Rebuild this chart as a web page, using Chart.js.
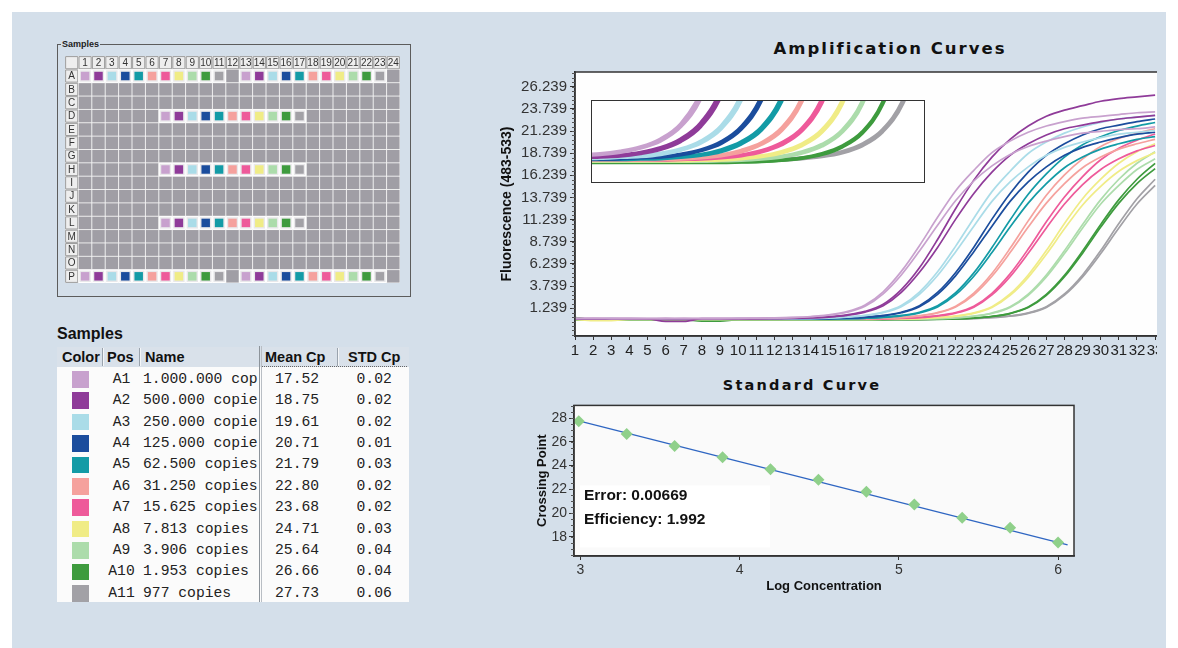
<!DOCTYPE html>
<html>
<head>
<meta charset="utf-8">
<script src="https://cdn.jsdelivr.net/npm/chart.js@4.4.1/dist/chart.umd.min.js"></script>
<style>
html, body { margin: 0; padding: 0; background: #fff; }
body { position: relative; width: 1178px; height: 648px; overflow: hidden; font-family: "Liberation Sans", Arial, sans-serif; color: #111; }
.abs { position: absolute; }
#panel { left: 12px; top: 12px; width: 1154px; height: 636px; background: #d4dfea; }
#plateBox { left: 57px; top: 44px; width: 352px; height: 251px; border: 1px solid #5c5c5c; }
#plateLegend { left: 61px; top: 38px; font-size: 9px; font-weight: bold; background: #d4dfea; padding: 0 1px; line-height: 12px; color: #222; }
#plateWrap { left: 65px; top: 56px; width: 335px; height: 227px; background: #f3f3f3; }
#tblTitle { left: 57px; top: 324px; font-size: 16px; font-weight: bold; line-height: 20px; }
#tblHead { left: 57px; top: 347px; width: 352px; height: 20px; background: #d9e1ea; }
#tblBody { left: 57px; top: 367px; width: 352px; height: 235px; background: #fbfbfb; }
.th { font-size: 14.5px; font-weight: bold; line-height: 20px; top: 347px; color: #111; }
.td { font-family: "Liberation Mono", "Courier New", monospace; font-size: 14.7px; line-height: 21px; color: #222; white-space: nowrap; overflow: hidden; }
.title { font-family: "DejaVu Sans", sans-serif; font-weight: bold; text-align: center; color: #111; }
#ampWrap { left: 495px; top: 60px; width: 662px; height: 300px; overflow: hidden; }
#insetWrap { left: 591px; top: 100px; width: 334px; height: 83px; border: 1.5px solid #333; box-sizing: border-box; background: #fff; }
#stdWrap { left: 520px; top: 395px; width: 570px; height: 200px; }
</style>
</head>
<body>
<div id="panel" class="abs"></div>

<div id="plateBox" class="abs"></div>
<div id="plateLegend" class="abs">Samples</div>
<div id="plateWrap" class="abs"><canvas id="plateChart" width="335" height="227"></canvas></div>

<div id="tblTitle" class="abs">Samples</div>
<div id="tblHead" class="abs"></div>
<div id="tblBody" class="abs"></div>

<div class="abs title" style="left:740px; top:38px; width:300px; font-size:16.5px; letter-spacing:2px; line-height:22px;">Amplification Curves</div>
<div id="ampWrap" class="abs"><canvas id="ampChart" width="720" height="300"></canvas></div>
<div id="insetWrap" class="abs"><canvas id="insetChart" width="331" height="80"></canvas></div>

<div class="abs title" style="left:652px; top:375px; width:300px; font-size:14.5px; letter-spacing:2.2px; line-height:20px;">Standard Curve</div>
<div id="stdWrap" class="abs"><canvas id="stdChart" width="570" height="200"></canvas></div>

<script>
// ---- samples (table / standard curve) ----
const samplePos = ['A1', 'A2', 'A3', 'A4', 'A5', 'A6', 'A7', 'A8', 'A9', 'A10', 'A11'];
const sampleNames = ['1.000.000 copies', '500.000 copies', '250.000 copies', '125.000 copies', '62.500 copies',
    '31.250 copies', '15.625 copies', '7.813 copies', '3.906 copies', '1.953 copies', '977 copies'];
const sampleColors = ['#c8a1ce', '#8f3b99', '#aadce8', '#1b4d9d', '#139ba6', '#f5a19d', '#ee5a9a', '#f0ec86', '#acdcab', '#3e9b3e', '#a2a1a6'];
const meanCp = [17.52, 18.75, 19.61, 20.71, 21.79, 22.80, 23.68, 24.71, 25.64, 26.66, 27.73];
const stdCp = [0.02, 0.02, 0.02, 0.01, 0.03, 0.02, 0.02, 0.03, 0.04, 0.04, 0.06];
const logConc = [6.000, 5.699, 5.398, 5.097, 4.796, 4.495, 4.194, 3.893, 3.592, 3.291, 2.990];
const fitLineX = [2.99, 6.06];
const fitLineY = [27.76, 17.32];
const fitError = '0.00669';
const fitEfficiency = '1.992';
const stdXTicks = [3, 4, 5, 6];
const stdYTicks = [18, 20, 22, 24, 26, 28];

// ---- plate layout (sample index per column, null = empty well) ----
const plateRows = ['A', 'B', 'C', 'D', 'E', 'F', 'G', 'H', 'I', 'J', 'K', 'L', 'M', 'N', 'O', 'P'];
const plateCols = [1, 2, 3, 4, 5, 6, 7, 8, 9, 10, 11, 12, 13, 14, 15, 16, 17, 18, 19, 20, 21, 22, 23, 24];
const plateRowA = [0, 1, 2, 3, 4, 5, 6, 7, 8, 9, 10, null, 0, 1, 2, 3, 4, 5, 6, 7, 8, 9, 10, null];
const plateRowD = [null, null, null, null, null, null, 0, 1, 2, 3, 4, 5, 6, 7, 8, 9, 10, null, null, null, null, null, null, null];
const plateRowH = [null, null, null, null, null, null, 0, 1, 2, 3, 4, 5, 6, 7, 8, 9, 10, null, null, null, null, null, null, null];
const plateRowL = [null, null, null, null, null, null, 0, 1, 2, 3, 4, 5, 6, 7, 8, 9, 10, null, null, null, null, null, null, null];
const plateRowP = [0, 1, 2, 3, 4, 5, 6, 7, 8, 9, 10, null, 0, 1, 2, 3, 4, 5, 6, 7, 8, 9, 10, null];

// ---- amplification curves (fluorescence per cycle) ----
const cycles = [1, 2, 3, 4, 5, 6, 7, 8, 9, 10, 11, 12, 13, 14, 15, 16, 17, 18, 19, 20, 21, 22, 23, 24, 25, 26, 27, 28, 29, 30, 31, 32, 33];
const ampXTicks = [1, 2, 3, 4, 5, 6, 7, 8, 9, 10, 11, 12, 13, 14, 15, 16, 17, 18, 19, 20, 21, 22, 23, 24, 25, 26, 27, 28, 29, 30, 31, 32, 33, 34, 35];
const ampYTicks = [1.239, 3.739, 6.239, 8.739, 11.239, 13.739, 16.239, 18.739, 21.239, 23.739, 26.239];

const lavenderA = [0.10, 0.10, 0.11, 0.10, 0.10, 0.12, 0.10, 0.10, 0.11, 0.11, 0.13, 0.15, 0.21, 0.31, 0.50, 0.86, 1.61, 3.10, 5.40, 8.30, 11.5, 14.5, 16.8, 18.8, 20.1, 21.1, 21.8, 22.3, 22.7, 22.9, 23.1, 23.3, 23.4];
const lavenderB = [0.08, 0.09, 0.08, 0.07, 0.08, 0.08, 0.09, 0.08, 0.08, 0.09, 0.10, 0.13, 0.18, 0.28, 0.45, 0.79, 1.47, 2.87, 5.00, 7.70, 10.6, 13.4, 15.6, 17.3, 18.6, 19.5, 20.1, 20.6, 21.0, 21.2, 21.4, 21.5, 21.7];
const purpleA = [0.06, 0.06, 0.07, 0.06, 0.05, -0.25, -0.25, 0.06, 0.07, 0.06, 0.07, 0.09, 0.12, 0.18, 0.29, 0.50, 0.89, 1.69, 3.34, 5.80, 9.00, 12.5, 15.7, 18.3, 20.3, 21.8, 22.9, 23.6, 24.1, 24.6, 24.9, 25.1, 25.3];
const purpleB = [0.04, 0.05, 0.04, 0.04, 0.04, 0.04, 0.05, 0.04, 0.04, 0.05, 0.05, 0.07, 0.09, 0.15, 0.25, 0.44, 0.80, 1.53, 3.03, 5.30, 8.10, 11.3, 14.2, 16.6, 18.5, 19.8, 20.8, 21.5, 21.9, 22.3, 22.6, 22.8, 23.0];
const lightBlueA = [0.05, 0.05, 0.06, 0.05, 0.05, 0.05, 0.04, 0.05, 0.05, 0.06, 0.05, 0.06, 0.08, 0.10, 0.16, 0.26, 0.45, 0.81, 1.56, 3.07, 5.35, 8.25, 11.4, 14.4, 16.7, 18.7, 20.0, 21.0, 21.7, 22.2, 22.6, 22.8, 23.0];
const lightBlueB = [0.03, 0.03, 0.03, 0.04, 0.03, 0.03, 0.03, 0.02, 0.03, 0.03, 0.03, 0.04, 0.06, 0.08, 0.13, 0.23, 0.40, 0.74, 1.42, 2.82, 4.93, 7.63, 10.5, 13.3, 15.5, 17.2, 18.5, 19.4, 20.0, 20.5, 20.9, 21.1, 21.3];
const darkBlueA = [0.03, 0.03, 0.03, 0.03, 0.04, 0.03, 0.03, 0.03, 0.03, 0.03, 0.03, 0.03, 0.04, 0.06, 0.08, 0.14, 0.24, 0.43, 0.79, 1.52, 3.02, 5.28, 8.13, 11.3, 14.2, 16.6, 18.5, 19.8, 20.8, 21.5, 21.9, 22.3, 22.6];
const darkBlueB = [0.02, 0.02, 0.02, 0.02, 0.02, 0.02, 0.02, 0.02, 0.02, 0.02, 0.02, 0.02, 0.03, 0.05, 0.07, 0.12, 0.22, 0.39, 0.73, 1.41, 2.81, 4.92, 7.62, 10.5, 13.3, 15.5, 17.2, 18.5, 19.4, 20.0, 20.5, 20.9, 21.1];
const tealA = [0.03, 0.03, 0.03, 0.03, 0.03, 0.03, 0.03, 0.03, 0.03, 0.03, 0.03, 0.03, 0.03, 0.04, 0.06, 0.08, 0.13, 0.24, 0.43, 0.78, 1.51, 2.99, 5.23, 8.09, 11.2, 14.1, 16.4, 18.3, 19.7, 20.6, 21.3, 21.8, 22.2];
const tealB = [0.01, 0.01, 0.01, 0.01, 0.01, 0.01, 0.01, 0.01, 0.01, 0.01, 0.01, 0.01, 0.01, 0.02, 0.03, 0.06, 0.11, 0.20, 0.38, 0.71, 1.39, 2.77, 4.86, 7.53, 10.4, 13.1, 15.3, 17.1, 18.3, 19.2, 19.8, 20.3, 20.6];
const salmonA = [0.02, 0.02, 0.02, 0.02, 0.02, 0.02, 0.02, 0.02, 0.02, 0.02, 0.02, 0.02, 0.02, 0.02, 0.03, 0.05, 0.07, 0.12, 0.23, 0.41, 0.76, 1.48, 2.96, 5.17, 8.00, 11.1, 14.0, 16.3, 18.1, 19.5, 20.4, 21.0, 21.5];
const salmonB = [0.00, 0.00, 0.00, 0.00, 0.00, 0.00, 0.00, 0.00, 0.00, 0.00, 0.00, 0.00, 0.00, 0.00, 0.01, 0.02, 0.05, 0.10, 0.19, 0.37, 0.70, 1.38, 2.76, 4.85, 7.52, 10.4, 13.1, 15.3, 17.1, 18.3, 19.2, 19.8, 20.3];
const pinkA = [0.02, 0.02, 0.02, 0.02, 0.02, 0.02, 0.02, 0.02, 0.02, 0.02, 0.02, 0.02, 0.02, 0.02, 0.02, 0.03, 0.05, 0.07, 0.12, 0.22, 0.41, 0.75, 1.47, 2.93, 5.12, 7.92, 11.0, 13.8, 16.1, 18.0, 19.3, 20.2, 20.9];
const pinkB = [0.00, 0.00, 0.00, 0.00, 0.00, 0.00, 0.00, 0.00, 0.00, 0.00, 0.00, 0.00, 0.00, 0.00, 0.00, 0.01, 0.02, 0.05, 0.10, 0.19, 0.36, 0.69, 1.36, 2.74, 4.80, 7.44, 10.3, 13.0, 15.2, 16.9, 18.1, 19.0, 19.6];
const yellowA = [0.00, -0.15, -0.15, 0.00, 0.00, 0.00, 0.00, 0.00, 0.00, 0.00, 0.00, 0.00, 0.00, 0.00, 0.00, 0.00, 0.01, 0.03, 0.05, 0.10, 0.20, 0.38, 0.72, 1.42, 2.85, 5.00, 7.75, 10.8, 13.6, 15.8, 17.6, 18.9, 19.8];
const yellowB = [-0.02, -0.02, -0.02, -0.02, -0.02, -0.02, -0.02, -0.02, -0.02, -0.02, -0.02, -0.02, -0.02, -0.02, -0.02, -0.02, -0.01, 0.00, 0.03, 0.08, 0.17, 0.34, 0.66, 1.33, 2.69, 4.73, 7.34, 10.2, 12.9, 15.0, 16.7, 17.9, 18.8];
const lightGreenA = [0.15, -0.01, -0.01, -0.01, -0.01, -0.01, -0.01, -0.01, -0.01, -0.01, -0.01, -0.01, -0.01, -0.01, -0.01, -0.01, -0.01, 0.00, 0.02, 0.04, 0.09, 0.19, 0.37, 0.71, 1.41, 2.84, 5.00, 7.74, 10.7, 13.5, 15.8, 17.6, 18.9];
const lightGreenB = [-0.03, -0.03, -0.03, -0.03, -0.03, -0.03, -0.03, -0.03, -0.03, -0.03, -0.03, -0.03, -0.03, -0.03, -0.03, -0.03, -0.03, -0.02, -0.01, 0.02, 0.07, 0.16, 0.33, 0.66, 1.33, 2.71, 4.77, 7.41, 10.3, 13.0, 15.1, 16.9, 18.1];
const greenA = [0.20, -0.05, -0.05, -0.05, -0.05, -0.05, -0.05, -0.22, -0.22, -0.05, -0.05, -0.05, -0.05, -0.05, -0.05, -0.05, -0.05, -0.05, -0.04, -0.03, 0.00, 0.05, 0.15, 0.33, 0.67, 1.37, 2.80, 4.95, 7.70, 10.7, 13.5, 15.8, 17.6];
const greenB = [-0.06, -0.06, -0.06, -0.06, -0.06, -0.06, -0.06, -0.06, -0.06, -0.06, -0.06, -0.06, -0.06, -0.06, -0.06, -0.06, -0.06, -0.06, -0.05, -0.04, -0.01, 0.04, 0.13, 0.31, 0.64, 1.32, 2.70, 4.79, 7.46, 10.4, 13.1, 15.3, 17.0];
const grayA = [0.00, 0.00, 0.00, 0.00, 0.00, 0.00, 0.00, 0.00, 0.00, 0.00, 0.00, 0.00, 0.00, 0.00, 0.00, 0.00, 0.00, 0.00, 0.00, 0.01, 0.03, 0.05, 0.10, 0.20, 0.38, 0.72, 1.42, 2.85, 5.00, 7.75, 10.8, 13.6, 15.8];
const grayB = [-0.02, -0.02, -0.02, -0.02, -0.02, -0.02, -0.02, -0.02, -0.02, -0.02, -0.02, -0.02, -0.02, -0.02, -0.02, -0.02, -0.02, -0.02, -0.02, -0.01, 0.00, 0.03, 0.08, 0.17, 0.34, 0.67, 1.34, 2.72, 4.78, 7.42, 10.3, 13.0, 15.1];

// which sample colour each replicate curve belongs to
const ampCurves = [
    [0, lavenderA], [0, lavenderB], [1, purpleA], [1, purpleB], [2, lightBlueA], [2, lightBlueB],
    [3, darkBlueA], [3, darkBlueB], [4, tealA], [4, tealB], [5, salmonA], [5, salmonB],
    [6, pinkA], [6, pinkB], [7, yellowA], [7, yellowB], [8, lightGreenA], [8, lightGreenB],
    [9, greenA], [9, greenB], [10, grayA], [10, grayB]
];

Chart.defaults.font.family = '"Liberation Sans", Arial, sans-serif';
Chart.defaults.color = '#222';

// ---------- small plugins ----------
const framePlugin = {
    id: 'frame',
    beforeDraw(chart, args, o) {
        const { ctx, chartArea: a } = chart;
        ctx.save();
        ctx.fillStyle = o.fill || '#fff';
        ctx.fillRect(a.left, a.top, a.width, a.height);
        ctx.restore();
    },
    afterDatasetsDraw(chart, args, o) {
        if (!o.border) return;
        const { ctx, chartArea: a } = chart;
        ctx.save();
        ctx.strokeStyle = '#333';
        ctx.lineWidth = 1.5;
        ctx.strokeRect(a.left, a.top, a.width, a.height);
        ctx.restore();
    }
};

const minorTicks = {
    id: 'minorTicks',
    afterDraw(chart, args, o) {
        if (!o.step) return;
        const sc = chart.scales.y;
        const ctx = chart.ctx;
        ctx.save();
        ctx.strokeStyle = '#555';
        ctx.lineWidth = 1;
        for (let v = o.from; v <= sc.max; v += o.step) {
            const p = Math.round(sc.getPixelForValue(v)) + 0.5;
            ctx.beginPath();
            ctx.moveTo(sc.right - 3, p);
            ctx.lineTo(sc.right, p);
            ctx.stroke();
        }
        ctx.restore();
    }
};

// ---------- plate ----------
const plateLayout = { A: plateRowA, D: plateRowD, H: plateRowH, L: plateRowL, P: plateRowP };
const headerPts = [{ x: 0, y: 0 }], emptyPts = [], wellBgPts = [], wellPts = [], wellColors = [];
plateCols.forEach(c => headerPts.push({ x: c, y: 0 }));
plateRows.forEach((r, i) => {
    headerPts.push({ x: 0, y: i + 1 });
    const map = plateLayout[r];
    plateCols.forEach((c, j) => {
        const s = map ? map[j] : null;
        if (s === null) {
            emptyPts.push({ x: c, y: i + 1 });
        } else {
            wellBgPts.push({ x: c, y: i + 1 });
            wellPts.push({ x: c, y: i + 1 });
            wellColors.push(sampleColors[s]);
        }
    });
});

const plateLabels = {
    id: 'plateLabels',
    afterDatasetsDraw(chart) {
        const { ctx, scales: { x, y } } = chart;
        ctx.save();
        ctx.font = '10px "Liberation Sans"';
        ctx.fillStyle = '#333';
        ctx.textAlign = 'center';
        ctx.textBaseline = 'middle';
        plateCols.forEach(c => ctx.fillText(String(c), x.getPixelForValue(c), y.getPixelForValue(0) + 0.5));
        plateRows.forEach((r, i) => ctx.fillText(r, x.getPixelForValue(0), y.getPixelForValue(i + 1) + 0.5));
        ctx.restore();
    }
};

new Chart(document.getElementById('plateChart'), {
    type: 'scatter',
    data: {
        datasets: [
            { data: wellPts, pointStyle: 'rect', pointRadius: 6.0, pointBackgroundColor: wellColors, pointBorderWidth: 0 },
            { data: wellBgPts, pointStyle: 'rect', pointRadius: 8.8, pointBackgroundColor: '#e9e8ea', pointBorderColor: '#ffffff', pointBorderWidth: 1 },
            { data: emptyPts, pointStyle: 'rect', pointRadius: 8.8, pointBackgroundColor: '#a09ea5', pointBorderWidth: 0 },
            { data: headerPts, pointStyle: 'rect', pointRadius: 8.6, pointBackgroundColor: '#eeeeee', pointBorderColor: '#9c9c9c', pointBorderWidth: 1 }
        ]
    },
    options: {
        responsive: false, animation: false, events: [],
        layout: { padding: 0, autoPadding: false },
        scales: {
            x: { type: 'linear', min: -0.5, max: 24.5, display: false },
            y: { type: 'linear', min: -0.5, max: 16.5, reverse: true, display: false }
        },
        plugins: { legend: { display: false }, tooltip: { enabled: false } }
    },
    plugins: [plateLabels]
});

// ---------- sample table ----------
function addDiv(cls, text, css) {
    const d = document.createElement('div');
    d.className = 'abs ' + cls;
    d.textContent = text;
    Object.assign(d.style, css);
    document.body.appendChild(d);
    return d;
}
[['Color', 62], ['Pos', 107], ['Name', 145], ['Mean Cp', 265], ['STD Cp', 348]].forEach(([t, x]) => addDiv('th', t, { left: x + 'px' }));
[102, 139, 337].forEach(x => {
    addDiv('', '', { left: x + 'px', top: '348px', width: '1px', height: '18px', background: '#9aa3ad' });
    addDiv('', '', { left: (x + 1) + 'px', top: '348px', width: '1px', height: '18px', background: '#f4f6f8' });
});
addDiv('', '', { left: '259px', top: '346px', width: '1px', height: '256px', background: '#8d949b' });
addDiv('', '', { left: '261px', top: '346px', width: '1px', height: '256px', background: '#b9bec4' });
addDiv('', '', { left: '262px', top: '366px', width: '145px', height: '0px', borderTop: '1px dotted #666' });

sampleNames.forEach((name, i) => {
    const yc = 379.3 + i * 21.4;
    addDiv('', '', { left: '72px', top: (yc - 8.3) + 'px', width: '17px', height: '16.5px', background: sampleColors[i] });
    addDiv('td', samplePos[i], { left: '103px', width: '37px', textAlign: 'center', top: (yc - 10.5) + 'px' });
    addDiv('td', name, { left: '143px', width: '115px', top: (yc - 10.5) + 'px' });
    addDiv('td', meanCp[i].toFixed(2), { left: '275px', top: (yc - 10.5) + 'px' });
    addDiv('td', stdCp[i].toFixed(2), { left: '356.5px', top: (yc - 10.5) + 'px' });
});

// ---------- amplification curves ----------
function curveSets(width) {
    return ampCurves.map(([s, vals]) => ({
        data: vals.map((v, i) => ({ x: cycles[i], y: v })),
        borderColor: sampleColors[s],
        borderWidth: width,
        pointRadius: 0,
        cubicInterpolationMode: 'monotone',
        fill: false
    }));
}

new Chart(document.getElementById('ampChart'), {
    type: 'line',
    data: { datasets: curveSets(1.7) },
    options: {
        responsive: false, animation: false, events: [],
        layout: { padding: { top: 12, right: 20, left: 0, bottom: 0 }, autoPadding: false },
        scales: {
            x: {
                type: 'linear', min: 1, max: 35.2,
                afterBuildTicks: axis => { axis.ticks = ampXTicks.map(v => ({ value: v })); },
                afterFit: axis => { axis.height = 24; },
                ticks: { autoSkip: false, maxRotation: 0, minRotation: 0, padding: 2, font: { size: 15 }, color: '#222', callback: v => String(v) },
                grid: { drawOnChartArea: false, tickLength: 4, color: '#333' },
                border: { color: '#333', width: 1.5 }
            },
            y: {
                type: 'linear', min: -1.89, max: 27.9,
                afterBuildTicks: axis => { axis.ticks = ampYTicks.map(v => ({ value: v })); },
                afterFit: axis => { axis.width = 80; },
                ticks: { padding: 3, font: { size: 15 }, color: '#333', callback: v => Number(v).toFixed(3) },
                grid: { drawOnChartArea: false, tickLength: 5, color: '#333' },
                border: { color: '#333', width: 1.5 },
                title: { display: true, text: 'Fluorescence (483-533)', font: { size: 14, weight: 'bold' }, color: '#111', padding: { top: 4, bottom: 0 } }
            }
        },
        plugins: {
            legend: { display: false }, tooltip: { enabled: false },
            frame: { fill: '#fefefe', border: true },
            minorTicks: { from: -1.761, step: 0.5 }
        }
    },
    plugins: [framePlugin, minorTicks]
});

new Chart(document.getElementById('insetChart'), {
    type: 'line',
    data: { datasets: curveSets(3.4) },
    options: {
        responsive: false, animation: false, events: [],
        layout: { padding: 0, autoPadding: false },
        scales: {
            x: { type: 'linear', min: 11.6, max: 28.0, display: false },
            y: { type: 'linear', min: -0.5, max: 1.4, display: false }
        },
        plugins: { legend: { display: false }, tooltip: { enabled: false }, frame: { fill: '#ffffff' } }
    },
    plugins: [framePlugin]
});

// ---------- standard curve ----------
const fitBox = {
    id: 'fitBox',
    beforeDatasetsDraw(chart) {
        const { ctx, chartArea: a } = chart;
        ctx.save();
        ctx.fillStyle = '#ffffff';
        ctx.fillRect(a.left + 6, a.top + 80, 190, 62);
        ctx.fillStyle = '#111';
        ctx.font = 'bold 15.5px "Liberation Sans"';
        ctx.textBaseline = 'middle';
        ctx.fillText('Error: ' + fitError, a.left + 10, a.top + 90);
        ctx.fillText('Efficiency: ' + fitEfficiency, a.left + 10, a.top + 114);
        ctx.restore();
    }
};

new Chart(document.getElementById('stdChart'), {
    type: 'scatter',
    data: {
        datasets: [
            {
                data: logConc.map((x, i) => ({ x: x, y: meanCp[i] })),
                pointStyle: 'rectRot', pointRadius: 6, pointBackgroundColor: '#8fd08a', pointBorderColor: '#8fd08a', pointBorderWidth: 0
            },
            {
                data: fitLineX.map((x, i) => ({ x: x, y: fitLineY[i] })),
                showLine: true, borderColor: '#2f66c2', borderWidth: 1.3, pointRadius: 0
            }
        ]
    },
    options: {
        responsive: false, animation: false, events: [],
        layout: { padding: { top: 10, right: 16, left: 0, bottom: 0 }, autoPadding: false },
        scales: {
            x: {
                type: 'linear', min: 2.96, max: 6.1,
                afterBuildTicks: axis => { axis.ticks = stdXTicks.map(v => ({ value: v })); },
                afterFit: axis => { axis.height = 39; },
                ticks: { padding: 2, font: { size: 14 }, color: '#333', callback: v => String(v) },
                grid: { drawOnChartArea: false, tickLength: 4, color: '#333' },
                border: { color: '#333', width: 1.5 },
                title: { display: true, text: 'Log Concentration', font: { size: 13, weight: 'bold' }, color: '#111', padding: { top: 0, bottom: 0.5 } }
            },
            y: {
                type: 'linear', min: 16.38, max: 29.07,
                afterBuildTicks: axis => { axis.ticks = stdYTicks.map(v => ({ value: v })); },
                afterFit: axis => { axis.width = 54; },
                ticks: { padding: 2, font: { size: 14 }, color: '#333', callback: v => String(v) },
                grid: { drawOnChartArea: false, tickLength: 5, color: '#333' },
                border: { color: '#333', width: 1.5 },
                title: { display: true, text: 'Crossing Point', font: { size: 13, weight: 'bold' }, color: '#111', padding: { top: 15, bottom: 0 } }
            }
        },
        plugins: {
            legend: { display: false }, tooltip: { enabled: false },
            frame: { fill: '#fafafa', border: true },
            minorTicks: { from: 16.5, step: 0.5 }
        }
    },
    plugins: [framePlugin, minorTicks, fitBox]
});
</script>
</body>
</html>
